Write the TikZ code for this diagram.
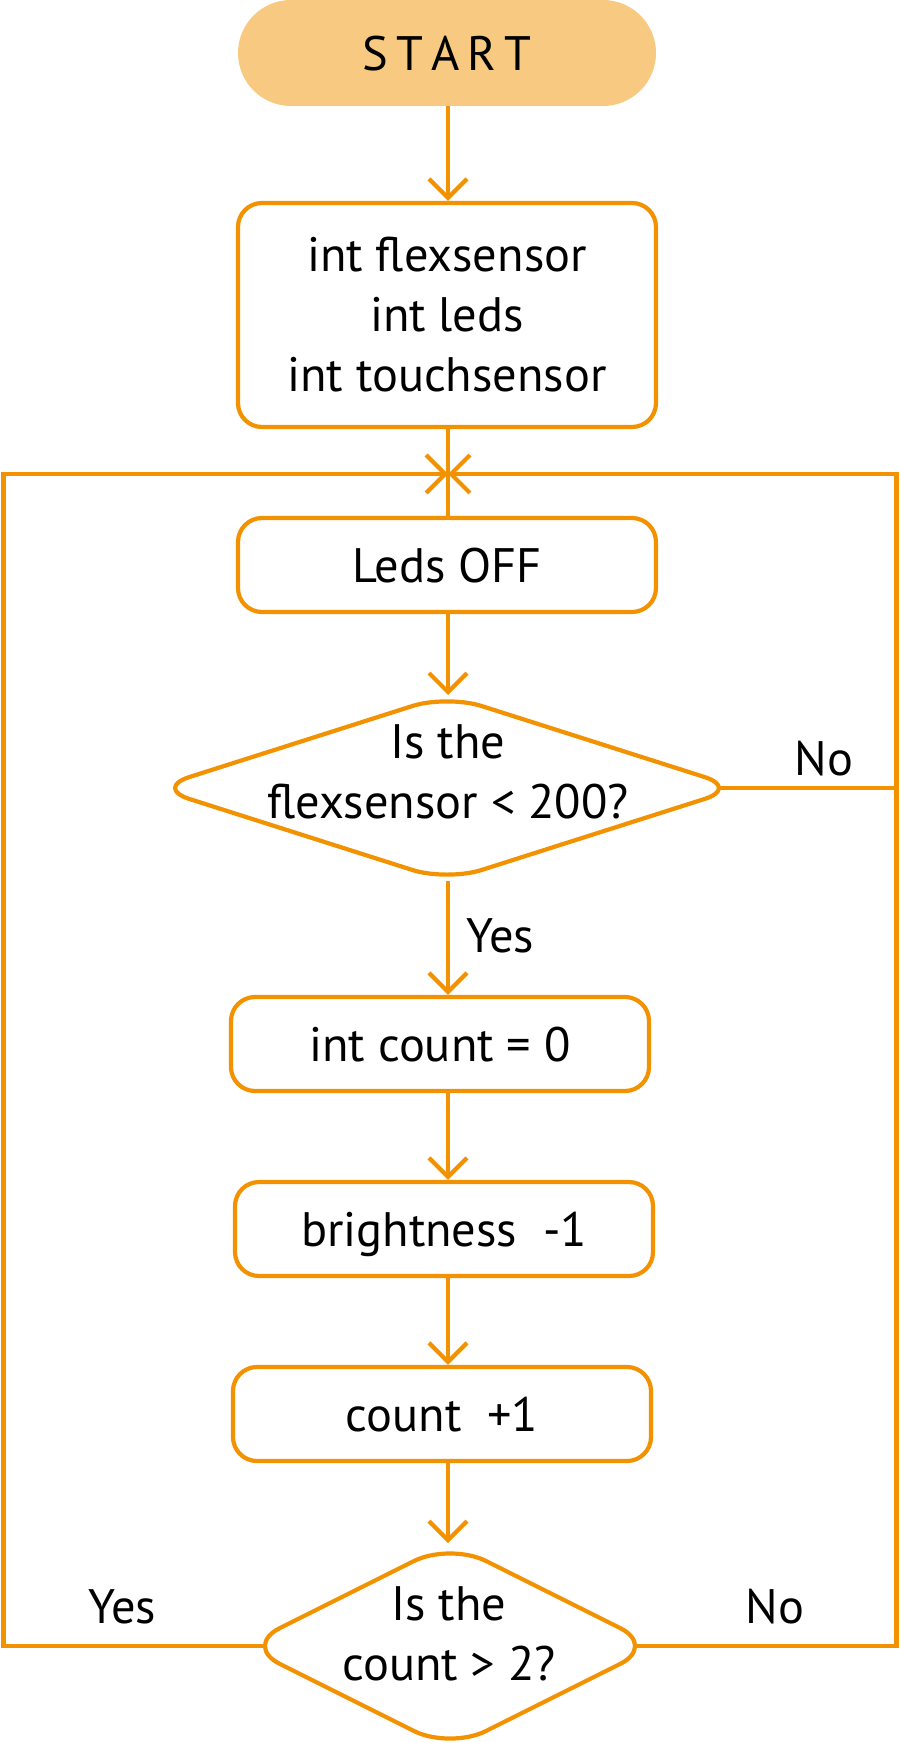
\documentclass[tikz,border=0pt]{standalone}
\usepackage{fontspec}
\setmainfont{PT Sans}
\usetikzlibrary{arrows.meta,shapes.geometric,calc}
\definecolor{flow}{RGB}{243,146,0}
\definecolor{startfill}{RGB}{248,201,128}
\pgfdeclarelayer{background}
\pgfsetlayers{background,main}
\begin{document}
\begin{tikzpicture}[x=0.5pt,y=-0.5pt,
  every node/.style={font=\fontsize{24.2}{30}\selectfont, text=black},
  line/.style={draw=flow, line width=2.1pt},
  arr/.style={line, -{Straight Barb[length=9.5pt,width=19pt]}},
  procbox/.style={draw=flow, line width=2.1pt, rectangle, rounded corners=12pt,
    minimum width=209pt, minimum height=47pt, inner sep=0pt, fill=white},
  single/.style={text depth=0pt},
  decision/.style={draw=flow, line width=2.1pt, diamond, fill=white,
    inner sep=0pt, outer sep=0pt},
]
\useasboundingbox (0,0) rectangle (900,1743);
\coordinate (spine) at (448,0);
\coordinate (L) at (3.5,474);
\coordinate (R) at (896.5,474);
\coordinate (merge) at (448,474);

\node[fill=startfill, rounded corners=26.5pt, minimum width=209pt,
  minimum height=53pt, inner sep=0pt, single] (start) at (447,53)
  {S\kern4pt T\kern4pt A\kern4pt R\kern4pt T};
\node[procbox, minimum height=112pt, align=center] (vars) at (447,315)
  {int flexsensor\\int leds\\int touchsensor};
\node[procbox, single] (leds) at (447,565) {Leds OFF};
\node[decision, minimum width=292pt, minimum height=93pt, rounded corners=18pt]
  (d1) at (447,788) {};
\node[align=center] (d1t) at (448,772) {Is the\\flexsensor < 200?};
\node[procbox, single] (cnt) at (440,1044) {int count = 0};
\node[procbox, single] (bright) at (444,1229) {brightness~~-1};
\node[procbox, single] (inc) at (442,1414) {count~~+1};
\node[decision, minimum width=206pt, minimum height=103pt, rounded corners=20pt]
  (d2) at (450,1646) {};
\node[align=center] (d2t) at (449,1634) {Is the\\count > 2?};

\node[anchor=base] (no1) at (824,775) {No};
\node[anchor=base] (yes1) at (500,952) {Yes};
\node[anchor=base] (yes2) at (122,1623) {Yes};
\node[anchor=base] (no2) at (775,1623) {No};

\begin{pgfonlayer}{background}
\draw[arr] (start.south -| spine) -- (vars.north -| spine);
\draw[line] (vars.south -| spine) -- (leds.north -| spine);
\draw[arr] (leds.south -| spine) -- (d1.north -| spine);
\draw[arr] (d1.south -| spine) -- (cnt.north -| spine);
\draw[arr] (cnt.south -| spine) -- (bright.north -| spine);
\draw[arr] (bright.south -| spine) -- (inc.north -| spine);
\draw[arr] (inc.south -| spine) -- (d2.north -| spine);
\draw[line] (d1.center) -- (d1.center -| R);
\draw[arr] (d2.center) -| (L) -- (merge);
\draw[arr] (d2.center) -| (R) -- (merge);
\end{pgfonlayer}
\end{tikzpicture}
\end{document}
